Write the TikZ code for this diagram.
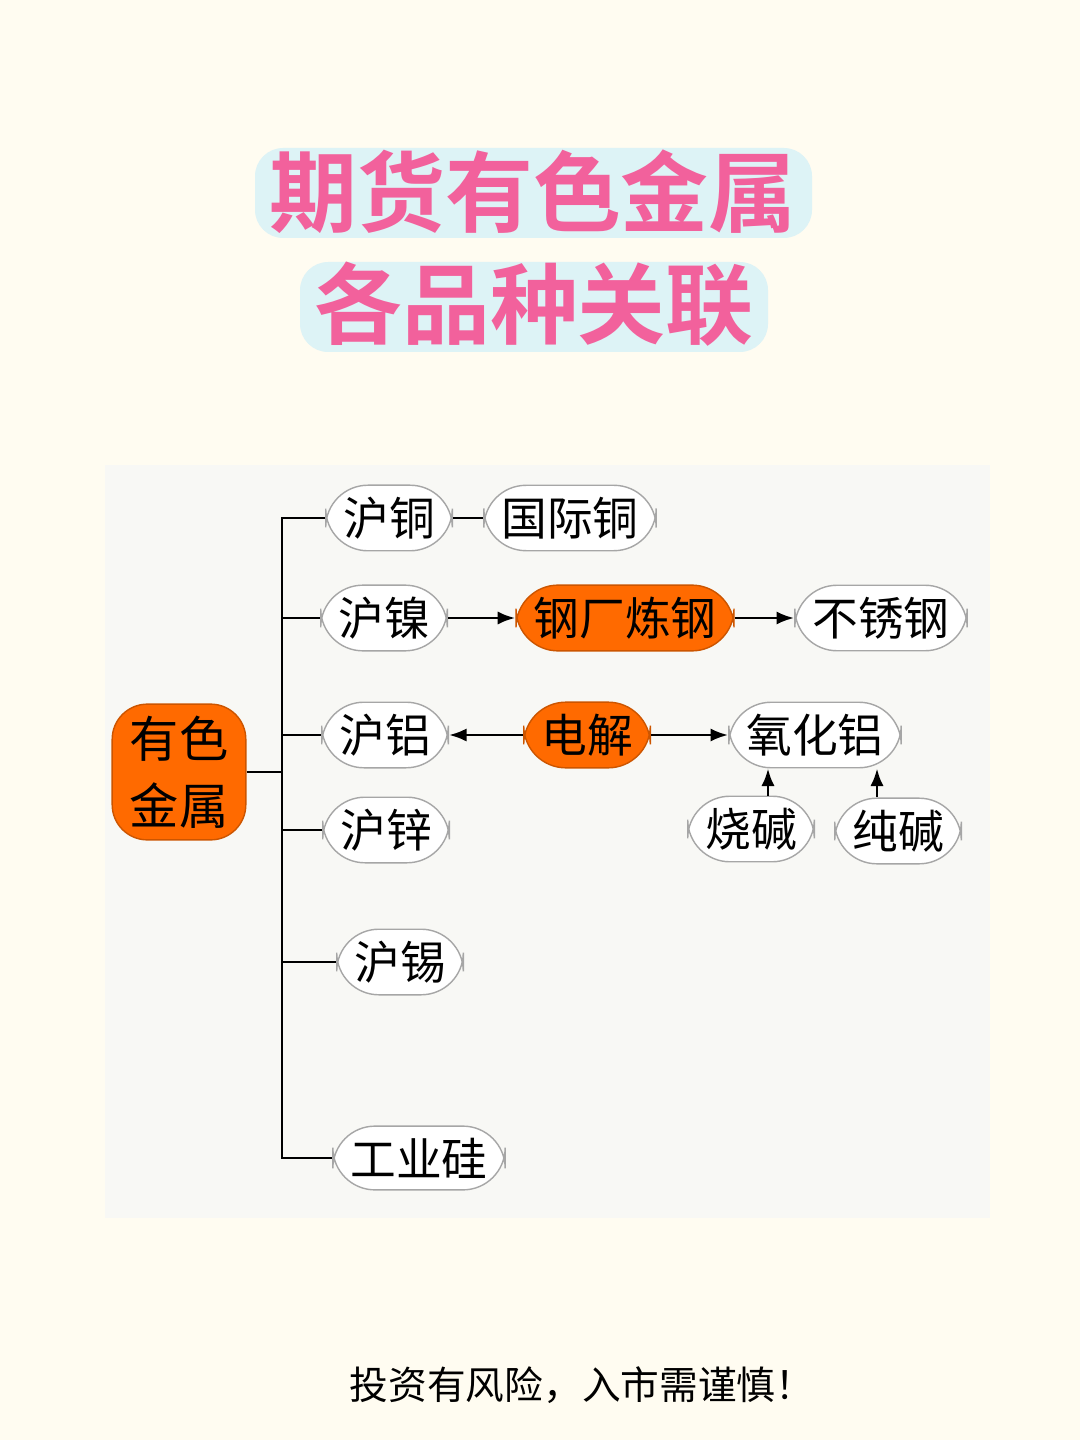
\documentclass[tikz,border=0pt]{standalone}
\usepackage{fontspec}
\setmainfont{Noto Sans CJK SC}
\newfontfamily\titlefont{Noto Sans CJK SC Bold}
\usetikzlibrary{positioning,arrows.meta}
\definecolor{cream}{HTML}{FFFCF1}
\definecolor{panel}{HTML}{F8F8F5}
\definecolor{hotorange}{HTML}{FF6A00}
\definecolor{titlepink}{HTML}{F2619C}
\definecolor{titleblue}{HTML}{DDF3F6}
\tikzset{
  item/.style={draw=gray!70, fill=white, rounded corners=12pt, font=\fontsize{13}{15}\selectfont,
    minimum height=0.58cm, inner xsep=5pt},
  hot/.style={item, draw=hotorange!80!black, fill=hotorange},
  link/.style={thick, -{Latex[length=5pt]}},
  branch/.style={thick}
}
\begin{document}
\begin{tikzpicture}[x=0.01cm, y=-0.01cm]
    \fill[cream] (0,0) rectangle (1080,1440);
    \useasboundingbox (0,0) rectangle (1080,1440);
    \fill[panel] (105,465) rectangle (990,1218);

    % title
    \fill[titleblue, rounded corners=8pt] (255,148) rectangle (812,238);
    \fill[titleblue, rounded corners=8pt] (300,262) rectangle (768,352);
    \node[font=\titlefont\fontsize{25}{28}\selectfont, text=titlepink] (title1) at (533,192) {期货有色金属};
    \node[font=\titlefont\fontsize{25}{28}\selectfont, text=titlepink] (title2) at (534,304) {各品种关联};

    % root
    \node[hot, rounded corners=10pt, minimum width=1.14cm, minimum height=1.25cm, align=center,
      font=\fontsize{14}{19}\selectfont] (root) at (179,772) {有色\\金属};
    \coordinate (trunk) at (282,772);

    \node[item] (cu) at (389,518) {沪铜};
    \node[item] (intcu) at (570,518) {国际铜};
    \node[item] (ni) at (384,618) {沪镍};
    \node[hot] (steel) at (625,618) {钢厂炼钢};
    \node[item] (stainless) at (881,618) {不锈钢};
    \node[item] (al) at (385,735) {沪铝};
    \node[hot] (elec) at (587,735) {电解};
    \node[item] (alumina) at (815,735) {氧化铝};
    \node[item] (caustic) at (751,829) {烧碱};
    \node[item] (soda) at (898,831) {纯碱};
    \node[item] (zn) at (386,830) {沪锌};
    \node[item] (sn) at (400,962) {沪锡};
    \node[item] (si) at (419,1158) {工业硅};

    % tree
    \draw[branch] (root) -- (trunk);
    \draw[branch] (cu.west) -| (282,1158) -- (si.west);
    \foreach \n in {ni,al,zn,sn}
        \draw[branch] (282,0 |- \n.west) -- (\n.west);
    \draw[branch] (cu) -- (intcu);

    % links
    \draw[link] (ni) -- (steel);
    \draw[link] (steel) -- (stainless);
    \draw[link] (elec) -- (al);
    \draw[link] (elec) -- (alumina);
    \draw[link] (caustic.north -| 768,0) -- (alumina.south -| 768,0);
    \draw[link] (soda.north -| 877,0) -- (alumina.south -| 877,0);

    \node[font=\fontsize{11}{13}\selectfont] (note) at (582,1385) {投资有风险，入市需谨慎！};
\end{tikzpicture}
\end{document}
